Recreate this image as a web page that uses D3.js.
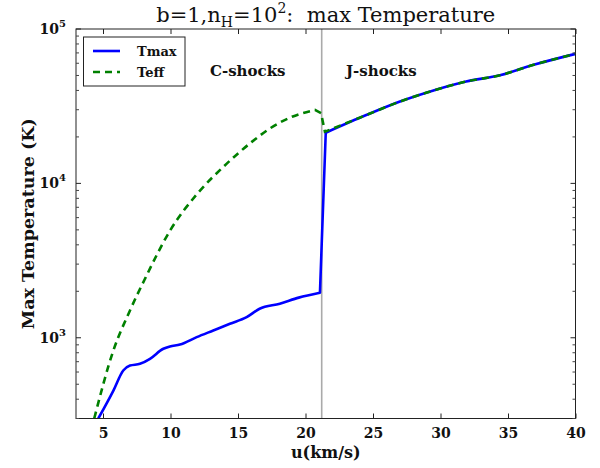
<!DOCTYPE html>
<html><head><meta charset="utf-8">
<script src="https://cdn.jsdelivr.net/npm/d3@7"></script>
<style>body{margin:0;background:#fff}svg{display:block}</style>
</head><body>
<svg id="c" width="600" height="468"></svg>
<script>
// ---- data ----
const tmaxU = [4.65, 5.77, 6.5, 7.0, 7.74, 8.48, 9.47, 9.96, 10.7, 11.94, 13.17, 14.4, 15.64, 16.6, 18.1, 19.5, 21.07, 21.5, 24.5, 27.0, 29.0, 31.9, 34.4, 36.9, 40.0];
const tmaxT = [300, 455, 614, 661, 678, 731, 849, 879, 904, 1009, 1115, 1232, 1360, 1542, 1662, 1820, 1958, 21300, 27700, 33900, 38800, 45700, 50100, 58600, 69000];
const teffU = [4.35, 5.77, 7.0, 8.1, 10, 12, 14, 16, 17.37, 19, 20.7, 21.15, 21.44, 24.5, 27.0, 29.0, 31.9, 34.4, 36.9, 40.0];
const teffT = [300, 828, 1504, 2400, 5000, 8600, 13000, 18500, 22700, 27000, 29900, 28500, 21600, 27700, 33900, 38800, 45700, 50100, 58600, 69000];
const xTicks = [5, 10, 15, 20, 25, 30, 35, 40];
const yMajor = [1e3, 1e4, 1e5];
const yExp = ["3", "4", "5"];
const shockBoundary = 21.2;
const seriesNames = ["Tmax", "Teff"];
const regionLabels = ["C-shocks", "J-shocks"];

const svg = d3.select("#c");
const L = 76, R = 575.5, T = 29, B = 418.5;
const x = d3.scaleLinear().domain([3, 40]).range([L, R]);
const y = d3.scaleLog().domain([300, 1e5]).range([B, T]);
const serif = "'DejaVu Serif', serif";

svg.append("clipPath").attr("id", "clip").append("rect")
  .attr("x", L).attr("y", T).attr("width", R - L).attr("height", B - T);

// vertical boundary line
svg.append("line").attr("x1", x(shockBoundary)).attr("x2", x(shockBoundary))
  .attr("y1", T).attr("y2", B).attr("stroke", "#aaaaaa").attr("stroke-width", 1.6);

// smooth within each shock regime, straight across the transition
const smooth = d3.line().x(d => x(d[0])).y(d => y(d[1])).curve(d3.curveMonotoneX);
const straight = d3.line().x(d => x(d[0])).y(d => y(d[1]));
function pathFor(us, ts) {
  const pts = us.map((u, i) => [u, ts[i]]);
  const c = pts.filter(p => p[0] <= 21.1 && !(p[0] > 20.8 && ts === teffT));
  const j = pts.filter(p => p[0] >= 21.4);
  const mid = [c[c.length - 1], ...pts.filter(p => p[0] > c[c.length - 1][0] && p[0] < j[0][0]), j[0]];
  return smooth(c) + straight(mid).replace(/^M/, "L") + smooth(j).replace(/^M/, "L");
}
const g = svg.append("g").attr("clip-path", "url(#clip)");
g.append("path").attr("d", pathFor(tmaxU, tmaxT))
  .attr("fill", "none").attr("stroke", "#0000ff").attr("stroke-width", 2.6).attr("stroke-linejoin", "round");
g.append("path").attr("d", pathFor(teffU, teffT))
  .attr("fill", "none").attr("stroke", "#008000").attr("stroke-width", 2.6)
  .attr("stroke-dasharray", "7,5");

// frame
svg.append("rect").attr("x", L).attr("y", T).attr("width", R - L).attr("height", B - T)
  .attr("fill", "none").attr("stroke", "#222").attr("stroke-width", 1);

// x ticks (inward, bottom & top)
const axX = d3.axisBottom(x).tickValues(xTicks).tickSize(-5).tickPadding(10).tickFormat(d3.format("d"));
const gx = svg.append("g").attr("transform", `translate(0,${B})`).call(axX);
gx.select(".domain").remove();
gx.selectAll("text").attr("font-family", serif).attr("font-weight", "bold").attr("font-size", 14).attr("fill", "#111");
gx.selectAll("line").attr("stroke", "#222");
const gxt = svg.append("g").attr("transform", `translate(0,${T})`)
  .call(d3.axisTop(x).tickValues(xTicks).tickSize(-5).tickFormat(""));
gxt.select(".domain").remove();
gxt.selectAll("line").attr("stroke", "#222");

// y ticks
const minor = [];
[100, 1000, 10000].forEach(dec => { for (let k = 2; k <= 9; k++) { const v = dec * k; if (v >= 300 && v <= 1e5) minor.push(v); } });
[[L, 1], [R, -1]].forEach(([px, dir]) => {
  svg.append("g").selectAll("line.maj").data(yMajor).join("line")
    .attr("x1", px).attr("x2", px + dir * 5).attr("y1", d => y(d)).attr("y2", d => y(d)).attr("stroke", "#222");
  svg.append("g").selectAll("line.min").data(minor).join("line")
    .attr("x1", px).attr("x2", px + dir * 3).attr("y1", d => y(d)).attr("y2", d => y(d)).attr("stroke", "#444");
});
const yl = svg.append("g").selectAll("text").data(yMajor).join("text")
  .attr("x", 66).attr("y", d => y(d) + 5).attr("text-anchor", "end")
  .attr("font-family", serif).attr("font-weight", "bold").attr("font-size", 14).attr("fill", "#111");
yl.append("tspan").text("10");
yl.append("tspan").attr("dy", -7).attr("font-size", 10).text((d, i) => yExp[i]);

// axis labels
svg.append("text").attr("x", (L + R) / 2).attr("y", 458).attr("text-anchor", "middle")
  .attr("font-family", serif).attr("font-weight", "bold").attr("font-size", 16).attr("fill", "#111").text("u(km/s)");
svg.append("text").attr("transform", `translate(34,${(T + B) / 2}) rotate(-90)`).attr("text-anchor", "middle")
  .attr("font-family", serif).attr("font-weight", "bold").attr("font-size", 17.5).attr("fill", "#111").text("Max Temperature (K)");

// title
const tt = svg.append("text").attr("x", (L + R) / 2).attr("y", 22).attr("text-anchor", "middle")
  .attr("font-family", serif).attr("font-size", 21).attr("fill", "#111");
tt.append("tspan").text("b=1,n");
tt.append("tspan").attr("dy", 5).attr("font-size", 14).text("H");
tt.append("tspan").attr("dy", -5).text("=10");
tt.append("tspan").attr("dy", -9).attr("font-size", 14).text("2");
tt.append("tspan").attr("dy", 9).text(":\u00a0\u00a0max Temperature");

// region labels
svg.append("text").attr("x", 210).attr("y", 76).attr("font-family", serif).attr("font-weight", "bold")
  .attr("font-size", 15).attr("fill", "#111").text(regionLabels[0]);
svg.append("text").attr("x", 346).attr("y", 76).attr("font-family", serif).attr("font-weight", "bold")
  .attr("font-size", 15).attr("fill", "#111").text(regionLabels[1]);

// legend
svg.append("rect").attr("x", 83.5).attr("y", 37).attr("width", 101.5).attr("height", 49)
  .attr("fill", "#fff").attr("stroke", "#222").attr("stroke-width", 1);
const legC = ["#0000ff", "#008000"], legD = [null, "7,5"], legY = [51, 72];
seriesNames.forEach((n, i) => {
  svg.append("line").attr("x1", 93).attr("x2", 120).attr("y1", legY[i]).attr("y2", legY[i])
    .attr("stroke", legC[i]).attr("stroke-width", 2.6).attr("stroke-dasharray", legD[i]);
  svg.append("text").attr("x", 137).attr("y", legY[i] + 5).attr("font-family", serif).attr("font-weight", "bold")
    .attr("font-size", 13).attr("fill", "#111").text(n);
});
</script>
</body></html>
